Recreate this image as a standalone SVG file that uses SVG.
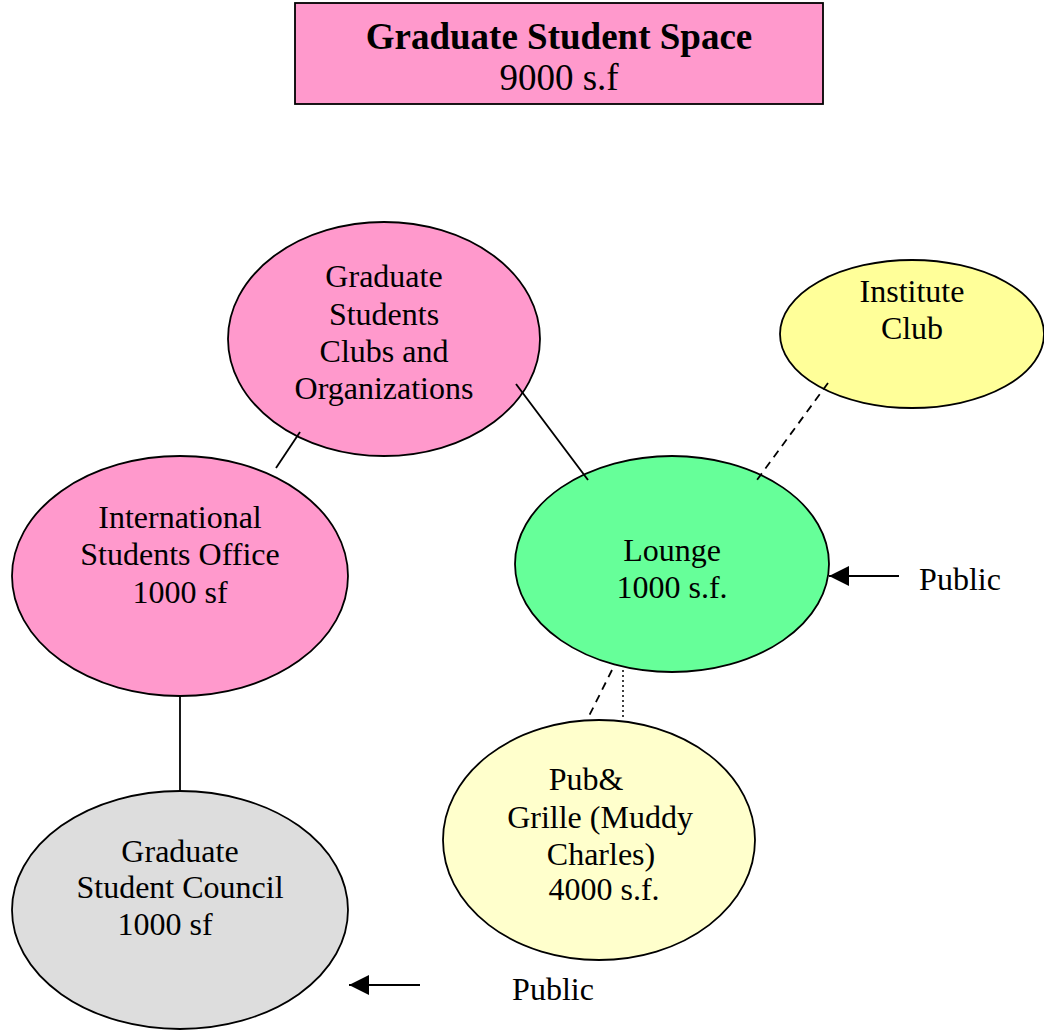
<svg xmlns="http://www.w3.org/2000/svg" width="1044" height="1030" viewBox="0 0 1044 1030">
  <style>
    text { font-family: "Liberation Serif", "Times New Roman", serif; font-size: 32px; fill: #000; text-anchor: middle; }
    .title { font-size: 37px; font-weight: bold; }
    .sub { font-size: 37px; }
    .shape { stroke: #000; stroke-width: 1.8; }
    .link { stroke: #000; stroke-width: 1.8; fill: none; }
    .dash { stroke-dasharray: 8 6; }
    .dot { stroke-width: 1.5; stroke-dasharray: 2 3; }
    .pink { fill: #FF99CC; }
    .green { fill: #66FF99; }
    .yellow { fill: #FFFF99; }
    .cream { fill: #FFFFCC; }
    .grey { fill: #DDDDDD; }
  </style>
  <defs>
    <marker id="bighead" viewBox="0 0 20 20" refX="20" refY="10" markerWidth="20" markerHeight="20" orient="auto" markerUnits="userSpaceOnUse">
      <path d="M0,0 L20,10 L0,20 Z" fill="#000"/>
    </marker>
  </defs>

  <rect width="1044" height="1030" fill="#fff"/>

  <!-- heading box -->
  <g id="title">
    <rect x="295" y="3" width="528" height="101" class="shape pink"/>
    <text x="559" y="49" class="title">Graduate Student Space</text>
    <text x="559" y="90" class="sub">9000 s.f</text>
  </g>

  <g id="clubs">
    <ellipse cx="384" cy="339" rx="156" ry="117" class="shape pink"/>
    <text x="384" y="287">Graduate</text>
    <text x="384" y="325">Students</text>
    <text x="384" y="362">Clubs and</text>
    <text x="384" y="399">Organizations</text>
  </g>

  <g id="institute-club">
    <ellipse cx="912" cy="334" rx="132" ry="74" class="shape yellow"/>
    <text x="912" y="302">Institute</text>
    <text x="912" y="339">Club</text>
  </g>

  <g id="international-office">
    <ellipse cx="180" cy="576" rx="168" ry="120" class="shape pink"/>
    <text x="180" y="528">International</text>
    <text x="180" y="565">Students Office</text>
    <text x="180" y="603">1000 sf</text>
  </g>

  <g id="lounge">
    <ellipse cx="672" cy="564" rx="157" ry="108" class="shape green"/>
    <text x="672" y="561">Lounge</text>
    <text x="672" y="598">1000 s.f.</text>
  </g>

  <g id="pub">
    <ellipse cx="599" cy="840" rx="156" ry="120" class="shape cream"/>
    <text x="586" y="790">Pub&amp;</text>
    <text x="600" y="828">Grille (Muddy</text>
    <text x="601" y="865">Charles)</text>
    <text x="604" y="900">4000 s.f.</text>
  </g>

  <g id="council">
    <ellipse cx="180" cy="910" rx="168" ry="119" class="shape grey"/>
    <text x="180" y="862">Graduate</text>
    <text x="180" y="898">Student Council</text>
    <text x="165" y="935">1000 sf</text>
  </g>

  <!-- connectors, drawn over the node outlines -->
  <g id="connectors">
    <line x1="300" y1="432" x2="276" y2="468" class="link"/>
    <line x1="516" y1="384" x2="588" y2="480" class="link"/>
    <line x1="828" y1="383" x2="757" y2="480" class="link dash"/>
    <line x1="612" y1="670" x2="587" y2="720" class="link dash"/>
    <line x1="623" y1="670" x2="623" y2="718" class="link dot"/>
    <line x1="180" y1="697" x2="180" y2="792" class="link"/>
    <line x1="899" y1="576" x2="829" y2="576" class="link" marker-end="url(#bighead)"/>
    <line x1="420" y1="985" x2="349" y2="985" class="link" marker-end="url(#bighead)"/>
  </g>

  <g id="public-labels">
    <text x="960" y="590">Public</text>
    <text x="553" y="1000">Public</text>
  </g>
</svg>
